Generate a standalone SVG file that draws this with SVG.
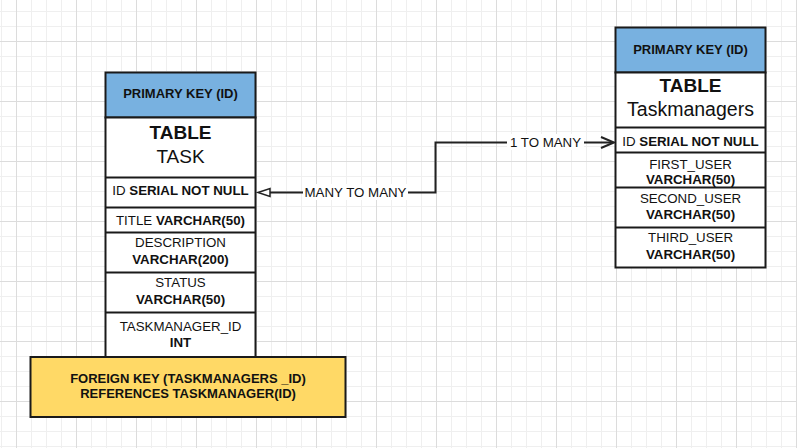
<svg xmlns="http://www.w3.org/2000/svg" width="797" height="448" viewBox="0 0 797 448">
<style>
text{font-family:"Liberation Sans",Arial,sans-serif;fill:#111;text-anchor:middle}
.hdr{font-size:13px;font-weight:bold}
.row{font-size:13.3px}
.b{font-weight:bold}
.big{font-size:19px}
.box{fill:#fff;stroke:#1a1a1a;stroke-width:2}
.blue{fill:#78b1e0;stroke:#1a1a1a;stroke-width:2}
.div{stroke:#1a1a1a;stroke-width:2}
.conn{fill:none;stroke:#222;stroke-width:2}
.lbl{font-size:13.3px}
.tri{fill:#fff;stroke:#222;stroke-width:1.5}
.chev{fill:none;stroke:#222;stroke-width:2}
</style>
<defs>
<pattern id="grid" patternUnits="userSpaceOnUse" x="16" y="41" width="60" height="60">
<path d="M15.5 0V60M30.5 0V60M45.5 0V60M0 15.5H60M0 30.5H60M0 45.5H60" stroke="#efefef" stroke-width="1" fill="none"/>
<path d="M0.5 0V60M0 0.5H60" stroke="#dcdcdc" stroke-width="1" fill="none"/>
</pattern>
</defs>
<rect width="797" height="448" fill="#fff"/>
<rect width="797" height="448" fill="url(#grid)"/>

<g id="connectors">
<path class="conn" d="M613 142.5H435.5V192.5H269"/>
<path class="chev" d="M601 137L614 142.5L601 148"/>
<path class="tri" d="M258 192.5L270 188.5V196.5Z"/>
<rect x="507" y="134" width="77" height="16" fill="#fff"/>
<text class="lbl" x="545.5" y="147">1 TO MANY</text>
<rect x="303" y="184" width="105" height="16" fill="#fff"/>
<text class="lbl" x="355.5" y="197">MANY TO MANY</text>
</g>

<g id="task">
<rect class="blue" x="105.5" y="72.5" width="150" height="45"/>
<text class="hdr" x="180.5" y="98">PRIMARY KEY (ID)</text>
<rect class="box" x="105.5" y="117.5" width="150" height="239.5"/>
<line class="div" x1="105.5" y1="177.5" x2="255.5" y2="177.5"/>
<line class="div" x1="105.5" y1="207.5" x2="255.5" y2="207.5"/>
<line class="div" x1="105.5" y1="232.5" x2="255.5" y2="232.5"/>
<line class="div" x1="105.5" y1="272.5" x2="255.5" y2="272.5"/>
<line class="div" x1="105.5" y1="312.5" x2="255.5" y2="312.5"/>
<text class="big b" x="180.5" y="139">TABLE</text>
<text class="big" x="180.5" y="162.5">TASK</text>
<text class="row" x="180.5" y="194.5">ID <tspan class="b">SERIAL NOT NULL</tspan></text>
<text class="row" x="180.5" y="224.5">TITLE <tspan class="b">VARCHAR(50)</tspan></text>
<text class="row" x="180.5" y="247">DESCRIPTION</text>
<text class="row b" x="180.5" y="264">VARCHAR(200)</text>
<text class="row" x="180.5" y="287">STATUS</text>
<text class="row b" x="180.5" y="304">VARCHAR(50)</text>
<text class="row" x="180.5" y="330.5">TASKMANAGER_ID</text>
<text class="row b" x="180.5" y="346.5">INT</text>
</g>

<g id="foreign-key">
<rect x="30.5" y="357" width="315" height="60" fill="#ffd966" stroke="#1a1a1a" stroke-width="2"/>
<text class="hdr" x="188" y="382.5">FOREIGN KEY (TASKMANAGERS _ID)</text>
<text class="hdr" x="188" y="398">REFERENCES TASKMANAGER(ID)</text>
</g>

<g id="taskmanagers">
<rect class="blue" x="615.5" y="27.5" width="150" height="45"/>
<text class="hdr" x="690.5" y="53.5">PRIMARY KEY (ID)</text>
<rect class="box" x="615.5" y="72.5" width="150" height="195"/>
<line class="div" x1="615.5" y1="127.5" x2="765.5" y2="127.5"/>
<line class="div" x1="615.5" y1="152.5" x2="765.5" y2="152.5"/>
<line class="div" x1="615.5" y1="187.5" x2="765.5" y2="187.5"/>
<line class="div" x1="615.5" y1="227.5" x2="765.5" y2="227.5"/>
<text class="big b" x="690.5" y="92">TABLE</text>
<text class="big" x="690.5" y="116" style="font-size:19.5px">Taskmanagers</text>
<text class="row" x="690.5" y="145.5">ID <tspan class="b">SERIAL NOT NULL</tspan></text>
<text class="row" x="690.5" y="168.5">FIRST_USER</text>
<text class="row b" x="690.5" y="184">VARCHAR(50)</text>
<text class="row" x="690.5" y="202.5">SECOND_USER</text>
<text class="row b" x="690.5" y="218.5">VARCHAR(50)</text>
<text class="row" x="690.5" y="242">THIRD_USER</text>
<text class="row b" x="690.5" y="258.5">VARCHAR(50)</text>
</g>
</svg>
